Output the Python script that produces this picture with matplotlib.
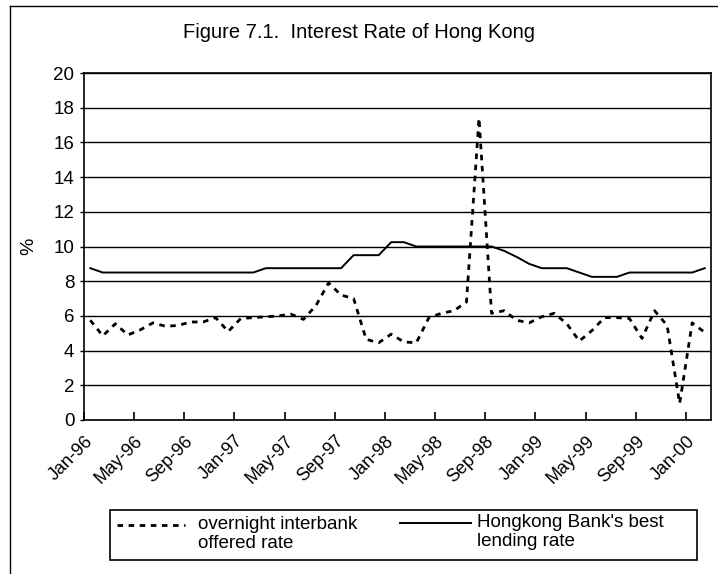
import matplotlib
matplotlib.use('Agg')
import matplotlib.pyplot as plt
import matplotlib.transforms as mtransforms
from matplotlib.lines import Line2D
from matplotlib.patches import Rectangle
import pandas as pd

plt.rcParams['font.family'] = ['Liberation Sans', 'DejaVu Sans']

# monthly categories Jan-96 .. Feb-00
months = pd.date_range('1996-01-01', periods=50, freq='MS')
tick_labels = ['Jan-96', 'May-96', 'Sep-96', 'Jan-97', 'May-97', 'Sep-97', 'Jan-98',
               'May-98', 'Sep-98', 'Jan-99', 'May-99', 'Sep-99', 'Jan-00']

# overnight interbank offered rate (%)
overnight = [5.75, 4.85, 5.55, 4.9, 5.2, 5.6, 5.4, 5.45, 5.65, 5.65,
             5.9, 5.1, 5.85, 5.9, 5.95, 6.0, 6.1, 5.8, 6.6, 7.9,
             7.2, 7.0, 4.65, 4.45, 4.95, 4.5, 4.45, 5.9, 6.15, 6.3,
             6.8, 17.4, 6.15, 6.3, 5.75, 5.6, 5.95, 6.15, 5.55, 4.55,
             5.15, 5.9, 5.9, 5.85, 4.7, 6.3, 5.45, 0.95, 5.6, 5.05]

# Hongkong Bank's best lending rate (%)
best_lending = [8.75, 8.5, 8.5, 8.5, 8.5, 8.5, 8.5, 8.5, 8.5, 8.5,
                8.5, 8.5, 8.5, 8.5, 8.75, 8.75, 8.75, 8.75, 8.75, 8.75,
                8.75, 9.5, 9.5, 9.5, 10.25, 10.25, 10.0, 10.0, 10.0, 10.0,
                10.0, 10.0, 10.0, 9.75, 9.4, 9.0, 8.75, 8.75, 8.75, 8.5,
                8.25, 8.25, 8.25, 8.5, 8.5, 8.5, 8.5, 8.5, 8.5, 8.75]

series_labels = ['overnight interbank\noffered rate', "Hongkong Bank's best\nlending rate"]

W, H = 718, 574
fig = plt.figure(figsize=(W / 100, H / 100), dpi=100)
ax = fig.add_axes([84 / W, (H - 420) / H, 627 / W, 347 / H])

dash_style = dict(color='black', lw=2, linestyle=(0, (2, 2)))
solid_style = dict(color='black', lw=1.4)

x = list(range(len(months)))
ax.plot(x, overnight, **dash_style)
ax.plot(x, best_lending, **solid_style)

ax.set_xlim(-0.5, len(months) - 0.5)
ax.set_ylim(0, 20)
ax.set_yticks(range(0, 21, 2))
ax.yaxis.grid(True, color='black', lw=1)
ax.set_axisbelow(True)

# tick marks between categories, labels centred on the month
ax.set_xticks([i - 0.5 for i in range(0, len(months), 4)])
ax.set_xticklabels([])
ax.set_xticks(range(0, len(months), 4), minor=True)
ax.set_xticklabels(tick_labels, minor=True, rotation=45, ha='right')
ax.tick_params(axis='x', which='major', direction='in', length=6, width=1.2)
ax.tick_params(axis='x', which='minor', length=0, pad=9, labelsize=13)
ax.tick_params(axis='y', length=3, width=1, pad=4, labelsize=13.5)
shift = mtransforms.ScaledTranslation(0.06, 0, fig.dpi_scale_trans)
for lab in ax.get_xticklabels(minor=True):
    lab.set_transform(lab.get_transform() + shift)

for sp in ax.spines.values():
    sp.set_linewidth(1.2)

ax.set_ylabel('%', fontsize=14)
ax.yaxis.set_label_coords((37 - 84) / 627, 0.5)

fig.text(0.5, 1 - 33 / H, 'Figure 7.1.  Interest Rate of Hong Kong',
         ha='center', va='center', fontsize=14.5)

# legend box below the axis, handles level with the first text line
fy = lambda py: 1 - py / H
fig.add_artist(Rectangle((110 / W, fy(560)), 587 / W, 50 / H, transform=fig.transFigure,
                         fill=False, edgecolor='black', lw=1.2))
fig.add_artist(Line2D([117 / W, 185 / W], [fy(525), fy(525)], **dash_style))
fig.text(198 / W, fy(534), series_labels[0], ha='left', va='center',
         fontsize=13.5, linespacing=1.15)
fig.add_artist(Line2D([400 / W, 471 / W], [fy(523), fy(523)], **solid_style))
fig.text(477 / W, fy(532), series_labels[1], ha='left', va='center',
         fontsize=13.5, linespacing=1.15)

# outer frame of the figure
fig.add_artist(Line2D([10 / W, 10 / W], [0, 1 - 6 / H], color='black', lw=1))
fig.add_artist(Line2D([10 / W, 1], [1 - 6 / H, 1 - 6 / H], color='black', lw=1))

fig.savefig('out.png', dpi=100)
